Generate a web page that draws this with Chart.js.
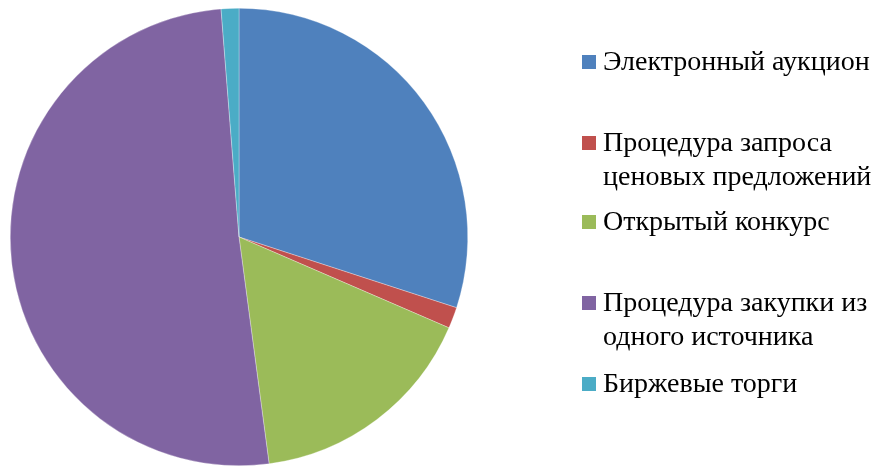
<!DOCTYPE html>
<html>
<head>
<meta charset="utf-8">
<script src="https://cdn.jsdelivr.net/npm/chart.js@4"></script>
<style>
  html, body { margin: 0; padding: 0; background: #fff; }
  #wrap { width: 891px; height: 466px; }
</style>
</head>
<body>
<div id="wrap"><canvas id="myChart" width="891" height="466"></canvas></div>
<script>
var labels = ["Электронный аукцион", "Процедура запроса ценовых предложений", "Открытый конкурс", "Процедура закупки из одного источника", "Биржевые торги"];
var shares = [30.0, 1.5, 16.4, 50.85, 1.25];
var colors = ['#4F81BD', '#C0504D', '#9BBB59', '#8064A2', '#4BACC6'];

// legend lines (wrapped like in the original) and where each item starts
var legendLines = [["Электронный аукцион"], ["Процедура запроса", "ценовых предложений"], ["Открытый конкурс"], ["Процедура закупки из", "одного источника"], ["Биржевые торги"]];
var legendTops = [62, 143, 222, 303, 384];

var sideLegend = {
    id: 'sideLegend',
    afterDraw: function (chart) {
        var c = chart.ctx;
        c.save();
        c.font = '28px "Liberation Serif", "Times New Roman", serif';
        c.textBaseline = 'middle';
        legendLines.forEach(function (lines, i) {
            var y = legendTops[i];
            c.fillStyle = colors[i];
            c.fillRect(582, y - 7, 14, 14);
            c.fillStyle = '#000';
            lines.forEach(function (t, k) {
                c.fillText(t, 603, y + 1 + k * 34);
            });
        });
        c.restore();
    }
};

var ctx = document.getElementById('myChart').getContext('2d');
var chart = new Chart(ctx, {
    type: 'pie',
    data: {
        labels: labels,
        datasets: [{
            data: shares,
            backgroundColor: colors,
            borderColor: 'rgba(255,255,255,0.6)',
            borderWidth: 0.5
        }]
    },
    options: {
        responsive: false,
        animation: false,
        layout: { padding: { left: 10, top: 8, right: 423, bottom: 0 } },
        plugins: {
            legend: { display: false },
            tooltip: { enabled: false }
        }
    },
    plugins: [sideLegend]
});
</script>
</body>
</html>
